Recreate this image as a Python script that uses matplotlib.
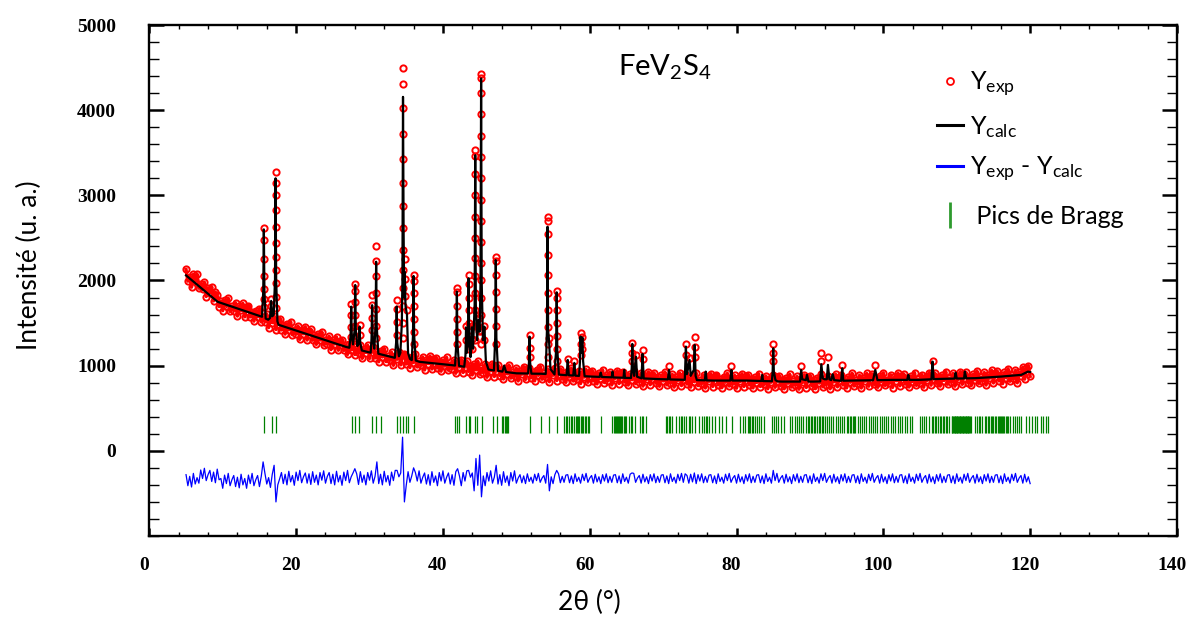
import numpy as np
import matplotlib
matplotlib.use("Agg")
import matplotlib.pyplot as plt
from matplotlib.lines import Line2D
from matplotlib.ticker import MultipleLocator, FixedLocator
import matplotlib.transforms as mtransforms

plt.rcParams['mathtext.fontset'] = 'custom'
plt.rcParams['mathtext.rm'] = 'Lato'
plt.rcParams['mathtext.it'] = 'Lato:italic'
plt.rcParams['mathtext.bf'] = 'Lato:bold'
plt.rcParams['path.simplify'] = False  # keep every step of the noisy scans

# measured 2theta grid (deg)
tt_start = 5.0
tt_step = 0.25

# --- observed background band (one value per grid step) ---
exp_y = [
    2130, 1992, 2044, 1921, 2073, 1990, 2077, 1909, 1961, 1898, 1980, 1812, 1914, 1856, 1928, 1760, 1862, 1824,
    1694, 1757, 1645, 1768, 1695, 1793, 1636, 1699, 1647, 1739, 1582, 1695, 1648, 1731, 1573, 1686, 1699, 1572,
    1635, 1522, 1645, 1573, 1671,
    1513, 1572, 1517, 1607, 1446, 1556, 1505, 1585, 1424, 1534,
    1546, 1419, 1482, 1370, 1492, 1420, 1518, 1361, 1424, 1372, 1465, 1308, 1421, 1374, 1457, 1300, 1412, 1425,
    1298, 1361, 1249, 1372, 1300, 1398, 1241, 1304, 1252, 1345, 1188, 1301, 1254, 1337, 1180, 1293, 1306, 1178, 1241,
    1131, 1256, 1186, 1285, 1130, 1195, 1145, 1240, 1085, 1200, 1154, 1239, 1084,
    1199, 1214, 1090, 1155, 1045, 1171, 1101, 1201, 1047, 1112, 1062, 1157, 1003,
    1119, 1075, 1162, 1009, 1126, 1142, 1019, 1086, 977, 1104, 1036, 1137, 984, 1051,
    1003, 1101, 949, 1067, 1024, 1112, 960, 1078, 1095, 973, 1041, 934, 1062, 994, 1097, 945, 1013, 965,
    1063, 910, 1027, 985, 1072, 919, 1036, 1054, 931, 998, 890, 1018, 950, 1052, 899, 967, 919, 1016, 863, 981,
    938, 1025, 872, 990, 1007, 884, 951,
    843, 971, 903, 1006, 853, 920, 873, 970,
    820, 939, 899, 989, 838, 958, 977, 857, 927, 821, 951, 886, 990,
    840, 908, 862, 961, 810, 928, 887, 976, 825, 943, 962, 841, 910, 803, 932, 866, 970, 819, 887, 841, 940, 789,
    907, 866, 955, 804, 923,
    942, 821, 890, 785, 914, 848, 952, 801, 871, 825, 924, 773, 892, 852, 941, 790, 909, 928, 807, 877, 771, 900,
    834, 938, 788, 857, 811, 910, 759, 879, 838, 927, 776, 895, 915, 794, 863, 757,
    886, 820, 925, 774, 844, 798, 898, 747, 866, 826, 915, 765, 884, 904, 783, 853, 747, 876, 811, 915, 765, 834,
    789, 888, 737, 857, 816, 906, 755,
    875, 895, 775, 845, 740, 870, 805, 910, 760, 830, 785, 885, 735, 855, 815, 905, 755, 875,
    895, 774, 843, 738, 867, 802, 906, 755, 825, 779, 878, 728, 847, 807, 896, 745, 865, 884, 763,
    833, 728, 858, 793, 898, 748, 818, 773, 873, 723, 843, 803, 893, 743, 863, 883, 763, 833,
    729, 859, 795, 900, 751, 822, 777, 878, 728, 849, 810, 900, 751, 871, 892, 772, 843, 738, 869, 805,
    910, 760, 831, 786, 887, 737, 857, 818, 908, 758, 879, 899, 779, 850, 745, 875, 811, 916, 767, 837, 792, 893,
    743, 863, 823, 913, 763, 883, 903, 783, 853, 748, 878, 813, 918, 768, 838,
    795, 895, 746, 867, 828, 919, 770, 891, 912, 792, 863, 759, 890,
    825, 931, 781, 852, 807, 908, 758, 879, 839, 929, 780, 900, 921, 801, 872, 767, 898, 833,
    939, 791, 862, 818, 920, 771, 892, 854, 945, 796, 918, 939, 820, 891,
    788, 920, 857, 964, 816, 888, 845, 946, 798, 920, 882,
    980, 841, 971, 1000, 875,
]

# observed points on the Bragg peaks
exp_peak_pos = [15.6, 16.6, 17.2, 27.5, 28.05, 28.65, 30.35, 30.9, 33.7, 34.56, 34.8, 35.1, 36.0,
                41.9, 43.15, 43.5, 43.95, 44.4, 44.85, 45.2, 45.65, 47.2, 51.8, 54.25, 54.45, 55.5,
                57.0, 57.9, 58.75, 59.0, 65.8, 66.3, 67.2, 70.8, 73.1, 73.6, 74.3, 79.3, 85.0, 88.8,
                91.55, 92.45, 94.4, 98.9, 106.7]
exp_peak_vals = [
    [2620, 2470, 2250, 2050, 1900, 1780, 1690],
    [1780, 1700],
    [3277, 3150, 3000, 2830, 2630, 2440, 2280, 2120, 1970, 1810, 1680],
    [1720, 1600, 1450, 1340],
    [1960, 1880, 1750, 1600, 1460, 1320],
    [1480, 1360],
    [1830, 1710, 1560, 1420],
    [2400, 2230, 2050, 1850, 1660, 1470, 1320],
    [1770, 1660, 1510, 1360],
    [4490, 4310, 4020, 3720, 3430, 3150, 2880, 2620, 2360, 2120, 1910, 1700, 1500, 1320],
    [2250, 2020, 1820],
    [1650],
    [2070, 1990, 1850, 1700, 1550, 1400, 1260],
    [1910, 1860, 1700, 1550, 1400, 1250],
    [1460, 1300],
    [2060, 1960, 1800, 1650, 1500, 1350, 1200],
    [1460, 1310, 1200],
    [3530, 3460, 3250, 3000, 2750, 2500, 2260, 2050, 1850, 1650, 1460, 1300],
    [1560, 1410],
    [4430, 4380, 4200, 3950, 3700, 3450, 3200, 2950, 2700, 2450, 2200, 2000, 1800, 1600, 1410, 1250],
    [1470, 1300],
    [2270, 2230, 2060, 1860, 1660, 1460, 1260],
    [1360, 1210, 1100],
    [2750, 2700, 2550, 2300, 2060, 1850, 1650, 1450, 1260, 1100],
    [1320],
    [1880, 1800, 1650, 1500, 1350, 1200, 1060],
    [1080],
    [1050],
    [1380, 1250, 1120],
    [1340, 1200],
    [1270, 1150, 1050],
    [1120],
    [1180, 1080],
    [1000],
    [1260, 1130],
    [1090],
    [1340, 1220, 1100],
    [1000],
    [1250, 1150, 1050],
    [1000],
    [1150, 1050],
    [1100],
    [1010],
    [1010],
    [1060],
]

# --- calculated profile ---
calc_x = [5.0, 9.3, 15.35, 15.52, 15.6, 15.68, 15.85, 16.2, 16.45, 16.6, 16.75, 16.95, 17.12, 17.2, 17.28,
          17.45, 17.6, 26.8, 27.25, 27.42, 27.5, 27.58, 27.75, 27.97, 28.05, 28.13, 28.35, 28.57, 28.65,
          28.73, 28.95, 30.15, 30.27, 30.35, 30.43, 30.65, 30.82, 30.9, 30.98, 31.2, 33.45, 33.62, 33.7,
          33.78, 34.0, 34.2, 34.4, 34.48, 34.56, 34.64, 34.72, 34.8, 34.9, 35.1, 35.25, 35.5, 35.75,
          35.92, 36.0, 36.08, 36.3, 36.8, 41.3, 41.65, 41.82, 41.9, 41.98, 42.2, 42.9, 43.07, 43.15,
          43.25, 43.42, 43.5, 43.58, 43.75, 43.95, 44.1, 44.32, 44.4, 44.48, 44.65, 44.85, 45.0, 45.12,
          45.2, 45.28, 45.45, 45.65, 45.85, 46.2, 46.95, 47.12, 47.2, 47.28, 47.5, 48.1, 48.35, 48.6,
          50.0, 51.6, 51.72, 51.8, 51.88, 52.05, 53.4, 54.0, 54.17, 54.25, 54.33, 54.45, 54.65, 55.2,
          55.42, 55.5, 55.58, 55.8, 56.85, 57.0, 57.15, 57.75, 57.9, 58.05, 58.55, 58.67, 58.75, 58.85,
          59.0, 59.1, 59.3, 60.2, 61.35, 61.5, 61.65, 63.0, 63.1, 63.2, 64.6, 64.7, 64.8, 65.62, 65.72,
          65.8, 65.88, 66.05, 66.3, 66.45, 67.05, 67.2, 67.35, 69.7, 70.65, 70.8, 70.95, 72.95, 73.1,
          73.25, 73.6, 73.75, 74.18, 74.3, 74.42, 74.6, 75.68, 75.8, 75.92, 76.9, 79.15, 79.3, 79.45,
          81.4, 83.38, 83.5, 83.62, 84.82, 84.92, 85.0, 85.08, 85.3, 85.6, 86.2, 88.65, 88.8, 88.95,
          89.45, 89.6, 89.8, 90.5, 91.4, 91.55, 91.75, 92.0, 92.3, 92.45, 92.65, 92.9, 93.1, 93.3,
          94.25, 94.4, 94.55, 95.7, 98.6, 98.9, 99.2, 101.2, 103.25, 103.4, 103.55, 104.8, 106.55,
          106.7, 106.85, 108.0, 109.7, 109.85, 110.0, 111.0, 111.1, 111.3, 112.5, 116.1, 118.8, 119.7,
          120.0]
calc_y = [2060, 1750, 1574, 1874, 2600, 1874, 1553, 1540, 1560, 1760, 1580, 1600, 2008, 3200, 2008,
          1520, 1480, 1220, 1210, 1352, 1693, 1352, 1250, 1420, 1947, 1420, 1230, 1270, 1458,
          1270, 1178, 1152, 1316, 1710, 1316, 1200, 1462, 2220, 1462, 1140, 1092, 1268, 1693,
          1268, 1110, 1150, 1500, 2000, 4156, 2600, 1800, 2100, 1700, 1600, 1150, 1080, 1065,
          1356, 2053, 1356, 1060, 1045, 1005, 1001, 1259, 1869, 1259, 997, 987, 1124, 1450,
          1150, 1294, 2026, 1294, 1100, 1450, 1200, 1720, 3472, 1720, 1300, 1537, 1400, 1984,
          4372, 1984, 1300, 1458, 1050, 955, 943, 1330, 2240, 1330, 940, 930, 1000, 925,
          910, 908, 1037, 1341, 1037, 906, 905, 902, 1420, 2631, 1420, 1300, 960, 897,
          1185, 1861, 1185, 895, 888, 1067, 887, 884, 1032, 882, 880, 1050, 1341, 1150,
          1330, 1050, 876, 872, 868, 918, 867, 863, 930, 862, 858, 950, 857, 855, 974,
          1255, 974, 880, 1106, 870, 851, 1138, 850, 841, 839, 950, 838, 834, 1224,
          900, 1067, 880, 950, 1243, 880, 830, 828, 930, 827, 825, 825, 950, 825,
          825, 820, 892, 819, 817, 932, 1204, 932, 830, 815, 813, 813, 950, 840,
          830, 892, 813, 813, 815, 1017, 850, 840, 840, 1009, 840, 830, 900, 830,
          822, 970, 823, 825, 829, 950, 830, 833, 833, 892, 833, 833, 840,
          1048, 842, 845, 848, 918, 849, 850, 930, 851, 853, 872, 892, 930,
          925]

# --- difference curve (offset), one value per grid step ---
diff_y = [
    -280, -410, -300, -425, -265, -390, -315,
    -380, -225, -325, -205, -350, -280, -230, -360, -250, -375, -215, -340,
    -325, -440, -285, -385, -265, -410, -340, -290, -420, -310, -435, -275, -400, -325, -440, -285, -385,
    -265, -410, -340, -290, -420,
    -300, -130, -265, -390, -315, -430, -275, -170, -600, -400, -330,
    -255, -385, -275, -400, -240, -365, -290, -405, -250, -350, -230, -375, -305,
    -260, -380, -270, -395, -245, -370, -285, -400, -255, -345, -235, -380, -300,
    -255, -385, -275, -400, -240, -365, -290, -405, -250, -350, -230, -375, -305,
    -260, -210, -270, -395, -245, -370, -285, -400, -255, -345, -235, -380, -300,
    -130, -385, -275, -400, -240, -365, -290, -405, -250, -350, -230, -230, -305,
    -260, 160, -600, -405, -245, -370, -295, -200, -255, -355, -235, -380, -310,
    -260, -390, -280, -405, -245, -370, -295, -410, -255, -355, -235, -380, -310,
    -260, -390, -280, -405, -245, -210, -295, -410, -255, -355, -235, -230, -310,
    -260, -470, -90, -405, -50, -540, -295, -410, -255, -355, -235, -380, -310,
    -170, -390, -280, -405, -245, -370, -295, -410, -255, -355, -235, -380,
    -320,
    -280, -375, -295, -385, -270, -360, -310, -380, -275, -350, -265, -370, -320,
    -290, -380, -160, -470, -305, -385, -280, -230, -270, -375, -300, -370, -285,
    -280, -375, -295, -385, -270, -360, -310, -380, -275, -350, -265, -370, -320,
    -290, -380, -275, -365, -305, -385, -280, -355, -270, -375, -300, -370, -285,
    -280, -375, -295, -385, -270, -360, -310, -380, -275, -260, -265, -370, -320,
    -290, -380, -275, -365, -305, -385, -280, -355, -270, -375, -300, -370, -285,
    -280, -375, -295, -385, -270, -360, -310, -380, -275, -350, -265, -370, -270,
    -290, -380, -275, -365, -260, -385, -280, -355, -270, -375, -300, -370, -285,
    -280, -375, -295, -385, -270, -360, -310, -380, -275, -350, -265, -370, -320,
    -290, -380, -275, -365, -305, -385, -280, -355, -270, -375, -300, -370, -285,
    -280, -375, -295, -385, -270, -360, -310, -380, -230, -350, -265, -370, -320,
    -290, -380, -275, -365, -305, -385, -280, -355, -270, -375, -300, -370, -285,
    -280, -375, -295, -385, -270, -360, -310, -380, -270, -350, -265, -370, -320,
    -290, -380, -275, -365, -305, -385, -280, -355, -270, -375, -300, -370, -285,
    -280, -375, -295, -385, -270, -360, -310, -380, -275, -350, -265, -370, -320,
    -290, -380, -275, -365, -305, -385, -280, -355, -270, -375, -300, -370, -285,
    -280, -375, -295, -385, -270, -360, -310, -380, -275, -350, -265, -370, -320,
    -290, -380, -275, -365, -305, -385, -280, -355, -270, -375, -300, -370, -285,
    -280, -375, -295, -385, -270, -360, -310, -380, -275, -350, -265, -370, -320,
    -290, -380, -275, -365, -305, -385, -280, -355, -270, -375, -300, -370, -285,
    -280, -375, -295, -385, -270, -360, -310, -380, -275, -350, -265, -370, -320,
    -290, -380, -275, -365, -305, -385,
]

# --- Bragg reflection positions ---
bragg_pos = [
    15.6, 16.7, 17.2, 27.6, 28.0, 28.5, 30.4, 30.9, 31.6, 33.8, 34.2, 34.6, 34.9, 35.3, 36.0,
    41.7, 41.9, 42.2, 43.1, 43.5, 43.7, 44.4, 44.6, 45.3, 46.8, 47.3,
    48.1, 48.25, 48.4, 48.55, 48.7, 48.85, 51.85, 53.4, 54.4, 55.6,
    56.5, 56.7, 56.9, 57.15, 57.4, 57.6, 57.9, 58.1, 58.3, 58.45, 58.6, 58.8, 58.95, 59.1, 59.3, 59.5,
    59.7, 59.85,
    61.5, 63.1, 63.25, 63.4, 63.55, 63.7, 63.85, 64.0, 64.15, 64.3, 64.45, 64.6, 64.75, 65.0, 65.3,
    65.6, 65.8, 66.1, 66.8, 67.1, 67.3, 67.6,
    70.35, 70.57, 70.8, 71.0, 71.2, 71.7, 72.15, 72.4, 72.6, 72.8, 73.05, 73.5, 73.7, 73.9, 74.4,
    74.9, 75.3, 75.55, 75.8, 76.0, 76.2, 76.7, 77.1, 77.6,
    78.0, 78.5, 79.4, 80.5, 80.9, 81.2, 81.5, 81.7, 81.9, 82.1, 82.3, 82.5, 82.8, 83.1, 83.4, 83.8,
    84.8, 85.1, 85.4, 85.7, 86.0, 86.4, 87.3, 87.6, 87.9, 88.2, 88.5,
    88.8, 89.1, 89.4, 89.7, 89.9, 90.1, 90.3, 90.5, 90.7, 91.0, 91.2, 91.4, 91.6, 91.8, 92.0, 92.3,
    92.6, 92.9, 93.2, 93.5, 93.8, 94.1, 94.4, 94.7, 95.0, 95.2, 95.4, 95.6, 95.8, 96.0, 96.2, 96.5,
    96.8, 97.1, 97.4, 97.7, 98.0, 98.3, 98.6, 98.9, 99.2, 99.5, 99.8, 100.1, 100.4, 100.7, 101.0,
    101.3, 101.6,
    102.0, 102.3, 102.6, 102.9, 103.2, 103.6, 103.9, 105.0, 105.2, 105.5, 105.8, 106.2,
    106.6, 106.8, 107.0, 107.2, 107.5, 107.7, 107.9, 108.1, 108.3, 108.5, 108.7, 108.9,
    109.3, 109.4, 109.5, 109.6, 109.7, 109.8, 109.9, 110.0, 110.1, 110.2, 110.3, 110.4, 110.5, 110.6,
    110.7, 110.8, 110.9, 111.0, 111.1, 111.2, 111.3, 111.4, 111.5, 111.6, 111.7, 111.8, 111.9,
    112.5, 112.8, 113.0, 113.2, 113.5, 113.8, 114.0, 114.2, 114.4, 114.6, 114.8, 115.0, 115.2, 115.4,
    115.6, 115.7, 115.85, 116.0, 116.2, 116.35, 116.5, 116.65, 116.8, 117.0, 117.3, 117.6, 117.9,
    118.2, 118.5, 118.8,
    119.5, 119.9, 120.3, 120.6, 121.0, 121.5, 121.8, 122.1, 122.4,
]
bragg_lo, bragg_hi = 210, 410

exp_x = tt_start + tt_step * np.arange(len(exp_y))
diff_x = tt_start + tt_step * np.arange(len(diff_y))

RED = '#ff0000'
GREEN = '#008000'
BLUE = '#0000ff'
SANS = ['Lato', 'DejaVu Sans']

fig = plt.figure(figsize=(11.88, 6.22), dpi=100)
ax = fig.add_axes([0.1257, 0.1383, 0.8650, 0.8215])

# Bragg ticks and difference curve
ax.vlines(bragg_pos, bragg_lo, bragg_hi, color=GREEN, lw=0.9, zorder=1)
ax.plot(diff_x, diff_y, color=BLUE, lw=0.9, zorder=2)

# observed data: dense scan, circles overlap into a solid band
mk = dict(ls='none', marker='o', mfc='none', mec=RED, ms=4.5, mew=1.4, zorder=3)
ax.plot(exp_x, exp_y, color=RED, lw=2.4, zorder=3)
ax.plot(exp_x, exp_y, **mk)
for pos, vals in zip(exp_peak_pos, exp_peak_vals):
    ax.plot([pos] * len(vals), vals, **mk)

# calculated
ax.plot(calc_x, calc_y, color='black', lw=1.6, zorder=4)

ax.set_xlim(0, 140)
ax.set_ylim(-1000, 5000)
ax.xaxis.set_major_locator(MultipleLocator(20))
ax.xaxis.set_minor_locator(MultipleLocator(4))
ax.yaxis.set_major_locator(FixedLocator([0, 1000, 2000, 3000, 4000, 5000]))
ax.yaxis.set_minor_locator(MultipleLocator(200))

for sp in ax.spines.values():
    sp.set_linewidth(1.7)

ax.tick_params(axis='both', which='both', direction='in', top=True, right=True)
ax.tick_params(axis='x', which='major', length=5.8, width=1.8, pad=15)
ax.tick_params(axis='x', which='minor', length=3.2, width=1.0)
ax.tick_params(axis='y', which='major', length=10.8, width=1.8, pad=24)
ax.tick_params(axis='y', which='minor', length=7.2, width=1.0)

for lab in ax.get_xticklabels() + ax.get_yticklabels():
    lab.set_fontfamily('Liberation Serif')
    lab.set_fontweight('bold')
    lab.set_fontsize(14)
shift = mtransforms.ScaledTranslation(-0.05, 0, fig.dpi_scale_trans)
for lab in ax.get_xticklabels():
    lab.set_transform(lab.get_transform() + shift)

ax.set_ylabel('Intensité (u. a.)', fontsize=19, family=SANS)
ax.yaxis.set_label_coords(-0.104, 0.53)
ax.set_xlabel('2θ (°)', fontsize=19, family=SANS)
ax.xaxis.set_label_coords(0.428, -0.105)

fig.text(618 / 1188, 1 - 76 / 622, r'FeV$_{\mathrm{2}}$S$_{\mathrm{4}}$', fontsize=21,
         family=SANS, ha='left', va='baseline')

handles = [
    Line2D([], [], ls='none', marker='o', mfc='none', mec=RED, ms=5, mew=1.3),
    Line2D([], [], color='black', lw=2.2),
    Line2D([], [], color=BLUE, lw=2.2),
]
labels = [r'Y$_{\mathrm{exp}}$', r'Y$_{\mathrm{calc}}$', r'Y$_{\mathrm{exp}}$ - Y$_{\mathrm{calc}}$']
leg_kw = dict(loc='upper left', frameon=False, prop={'family': SANS, 'size': 18},
              handlelength=1.05, handletextpad=0.25, borderpad=0, borderaxespad=0)
fig.legend(handles, labels, bbox_to_anchor=(937 / 1188, 1 - 70 / 622), labelspacing=0.6, **leg_kw)
fig.legend([Line2D([], [], ls='none', marker='|', color='#2e9a2e', ms=19, mew=2)], [' Pics de Bragg'],
           bbox_to_anchor=(937 / 1188, 1 - 205 / 622), **leg_kw)

fig.savefig('out.png', dpi=100)
